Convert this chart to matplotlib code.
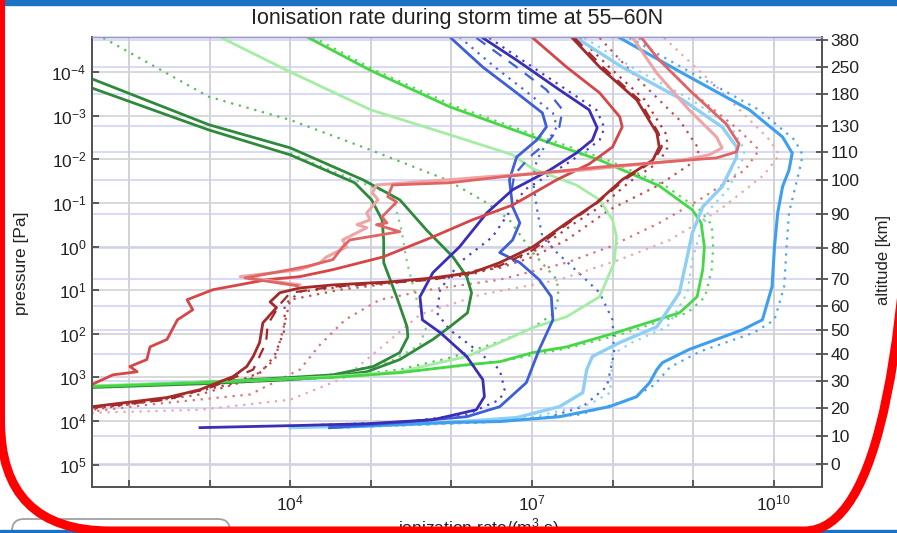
import numpy as np
import matplotlib.pyplot as plt
from matplotlib.patches import FancyBboxPatch, Rectangle
from matplotlib.ticker import FixedLocator, NullLocator, NullFormatter

plt.rcParams['font.family'] = ['Liberation Sans', 'DejaVu Sans']
plt.rcParams['mathtext.fontset'] = 'custom'
plt.rcParams['mathtext.rm'] = 'Liberation Sans'
plt.rcParams['mathtext.it'] = 'Liberation Sans:italic'
plt.rcParams['mathtext.bf'] = 'Liberation Sans:bold'

# profiles: log10(ionisation rate) vs log10(pressure / Pa)
dkgreen_a_q = [1.54, 2.99, 4.00, 4.90, 5.36, 5.69, 6.02, 6.19, 6.25, 6.20, 5.98, 5.77, 5.36, 4.95, 4.53, 4.00, 2.99, 1.54]
dkgreen_a_p = [-3.84, -2.79, -2.26, -1.53, -1.07, -0.38, 0.24, 0.69, 1.06, 1.52, 1.84, 2.13, 2.59, 2.87, 2.98, 3.05, 3.14, 3.23]
dkgreen_b_q = [1.54, 2.99, 4.00, 4.80, 5.01, 5.14, 5.16, 5.16, 5.32, 5.45, 5.46, 5.36, 5.03, 4.53, 4.00, 3.00, 1.54]
dkgreen_b_p = [-3.63, -2.67, -2.10, -1.46, -1.07, -0.61, -0.15, 0.37, 1.15, 1.84, 2.07, 2.43, 2.75, 2.94, 3.00, 3.10, 3.21]
green_dot_a_q = [1.68, 2.99, 4.00, 5.00, 5.94, 6.44, 6.72, 7.01, 7.31, 7.33, 7.28, 7.03, 6.60, 5.98, 5.36, 4.53, 3.50, 1.54]
green_dot_a_p = [-4.78, -3.43, -2.90, -2.21, -1.53, -1.00, -0.61, 0.14, 0.76, 1.15, 1.52, 1.84, 2.18, 2.55, 2.82, 3.00, 3.10, 3.19]
green_dot_b_q = [4.00, 4.49, 5.27, 5.38, 5.45, 5.57, 5.69, 5.61, 5.24, 4.62, 4.00, 2.99, 1.54]
green_dot_b_p = [-2.14, -1.75, -1.18, -0.38, 0.37, 1.22, 1.84, 2.25, 2.64, 2.91, 3.03, 3.12, 3.21]
green_q = [4.21, 4.99, 5.98, 6.85, 7.09, 7.84, 8.58, 8.99, 9.10, 9.14, 9.12, 9.05, 8.83, 8.55, 8.05, 7.43, 7.01, 6.60, 6.19, 5.36, 4.53, 3.71, 2.88, 1.54]
green_p = [-4.80, -4.04, -3.20, -2.62, -2.46, -1.98, -1.39, -0.84, -0.54, 0.01, 0.53, 1.15, 1.52, 1.68, 1.97, 2.30, 2.43, 2.64, 2.71, 2.89, 3.00, 3.05, 3.12, 3.21]
green_dot_q = [4.28, 5.05, 6.04, 6.91, 7.90, 8.64, 9.08, 9.23, 9.25, 9.23, 9.15, 8.93, 8.58, 8.09, 7.47, 6.60, 5.36, 4.53, 2.88, 1.54]
green_dot_p = [-4.80, -4.04, -3.22, -2.64, -2.01, -1.41, -0.84, -0.50, 0.01, 0.53, 1.15, 1.52, 1.72, 2.02, 2.32, 2.64, 2.89, 3.00, 3.12, 3.21]
ltgreen_q = [3.15, 4.00, 5.00, 5.98, 6.76, 7.01, 7.55, 7.84, 8.00, 8.05, 8.02, 7.84, 7.43, 7.01, 6.60, 6.19, 5.36, 4.53, 3.50, 1.54]
ltgreen_p = [-4.78, -4.00, -3.13, -2.56, -2.10, -1.78, -1.41, -1.07, -0.61, -0.22, 0.37, 1.15, 1.61, 1.86, 2.20, 2.52, 2.87, 2.98, 3.07, 3.19]

indigo_q = [6.39, 6.81, 7.34, 7.71, 7.81, 7.75, 7.55, 7.22, 6.76, 6.44, 6.10, 5.77, 5.61, 5.64, 5.86, 6.19, 6.39, 6.41, 6.31, 5.77, 4.95, 4.12, 2.88]
indigo_p = [-4.78, -4.27, -3.59, -3.13, -2.72, -2.44, -2.14, -1.75, -1.30, -0.77, 0.01, 0.60, 1.15, 1.68, 1.97, 2.52, 3.05, 3.44, 3.74, 3.97, 4.06, 4.10, 4.15]
indigo_dot_q = [6.47, 6.88, 7.43, 7.80, 7.90, 7.84, 7.63, 7.31, 6.91, 6.51, 6.10, 5.86, 5.82, 5.98, 6.26, 6.60, 6.66, 6.60, 6.19, 5.36, 4.12]
indigo_dot_p = [-4.78, -4.27, -3.59, -3.13, -2.72, -2.44, -2.14, -1.75, -1.30, -0.22, 0.37, 0.99, 1.52, 1.91, 2.30, 2.82, 3.28, 3.51, 3.85, 4.03, 4.10]
blue_q = [5.98, 6.39, 6.81, 7.13, 7.18, 7.06, 6.81, 6.72, 6.76, 6.85, 6.76, 6.60, 6.85, 7.09, 7.24, 7.26, 7.09, 6.93, 6.60, 6.19, 5.36, 4.49]
blue_p = [-4.80, -4.11, -3.52, -3.06, -2.74, -2.44, -2.05, -1.53, -0.91, -0.54, -0.15, 0.14, 0.37, 0.76, 1.15, 1.68, 2.36, 3.12, 3.67, 3.90, 4.03, 4.15]
blue_dash_q = [6.31, 6.81, 7.18, 7.38, 7.34, 7.22, 6.97, 6.78, 6.74]
blue_dash_p = [-4.78, -4.11, -3.59, -3.13, -2.74, -2.44, -2.05, -1.64, -1.18]
blue_dot_q = [6.10, 6.54, 6.95, 7.26, 7.31, 7.19, 7.06, 7.01, 7.07, 7.13, 7.31, 7.63, 7.84, 8.00, 8.02, 7.93, 7.63, 7.22, 6.60, 5.61, 4.62]
blue_dot_p = [-4.80, -4.11, -3.52, -3.06, -2.74, -2.40, -1.98, -1.53, -0.77, -0.22, 0.14, 0.69, 1.06, 1.68, 2.43, 3.21, 3.67, 3.90, 4.01, 4.08, 4.15]
skyblue_q = [7.55, 8.12, 8.87, 9.36, 9.54, 9.54, 9.36, 9.12, 8.99, 8.92, 8.83, 8.55, 8.09, 7.75, 7.68, 7.63, 7.34, 6.81, 5.98, 5.11, 4.00]
skyblue_p = [-4.78, -4.11, -3.36, -2.74, -2.28, -2.05, -1.37, -0.91, -0.31, 0.30, 1.06, 1.84, 2.20, 2.52, 2.82, 3.35, 3.67, 3.92, 4.03, 4.10, 4.15]
skyblue_dot_q = [7.65, 8.24, 8.98, 9.47, 9.64, 9.61, 9.43, 9.20, 9.08, 8.99, 8.93, 8.68, 8.24, 7.99, 7.99, 7.97, 7.71, 6.97, 5.98, 4.49]
skyblue_dot_p = [-4.78, -4.11, -3.36, -2.74, -2.21, -1.98, -1.30, -0.84, -0.27, 0.30, 1.06, 1.84, 2.20, 2.48, 2.82, 3.35, 3.62, 3.92, 4.06, 4.15]
dodger_q = [8.09, 8.87, 9.70, 10.11, 10.23, 10.19, 10.11, 10.05, 10.01, 9.98, 9.86, 9.61, 8.95, 8.62, 8.55, 8.46, 8.30, 7.96, 7.34, 6.60, 5.98, 4.49]
dodger_p = [-4.78, -3.97, -3.13, -2.51, -2.14, -1.75, -1.37, -0.77, 0.01, 0.92, 1.68, 1.91, 2.36, 2.66, 2.82, 3.12, 3.44, 3.67, 3.90, 4.01, 4.03, 4.15]
dodger_dot_q = [8.21, 8.99, 9.82, 10.26, 10.36, 10.32, 10.26, 10.19, 10.16, 10.13, 10.01, 9.76, 9.08, 8.71, 8.52, 8.21, 7.59, 6.60, 5.36]
dodger_dot_p = [-4.78, -3.97, -3.13, -2.44, -2.10, -1.75, -1.30, -0.77, 0.01, 0.92, 1.68, 1.97, 2.41, 2.77, 3.17, 3.51, 3.85, 4.01, 4.10]

dkred_q = [7.50, 7.84, 8.30, 8.55, 8.58, 8.50, 8.12, 7.80, 7.43, 7.01, 6.60, 6.26, 5.77, 5.24, 4.53, 4.12, 3.87, 3.75, 3.83, 3.66, 3.62, 3.54, 3.46, 3.29, 2.88, 2.47, 1.54]
dkred_p = [-4.78, -4.11, -3.36, -2.60, -2.28, -1.98, -1.53, -1.00, -0.54, 0.01, 0.37, 0.60, 0.72, 0.81, 0.88, 0.95, 1.06, 1.27, 1.40, 1.75, 2.20, 2.52, 2.75, 2.98, 3.28, 3.46, 3.67]
dkred_dash_q = [7.53, 7.88, 8.33, 8.57, 8.61, 8.52, 8.15, 7.81, 7.44, 7.01, 6.60, 5.77, 4.53, 4.00, 3.87, 3.72, 3.70, 3.60, 3.54, 3.04, 2.47, 1.54]
dkred_dash_p = [-4.78, -4.11, -3.36, -2.60, -2.28, -1.98, -1.53, -1.00, -0.52, 0.08, 0.44, 0.76, 0.92, 1.06, 1.33, 1.79, 2.20, 2.59, 2.82, 3.21, 3.51, 3.69]
dkred_dot_q = [7.59, 7.96, 8.40, 8.67, 8.68, 8.58, 8.21, 7.88, 7.50, 7.09, 6.66, 6.23, 5.61, 4.86, 4.12, 3.93, 3.93, 3.81, 3.65, 3.25, 2.26, 1.54]
dkred_dot_p = [-4.78, -4.11, -3.36, -2.56, -2.26, -1.94, -1.48, -0.95, -0.50, 0.05, 0.42, 0.65, 0.78, 0.88, 1.04, 1.33, 1.91, 2.48, 2.87, 3.16, 3.55, 3.71]
red_q = [7.01, 7.43, 7.84, 8.09, 8.12, 8.00, 7.71, 7.31, 6.76, 6.26, 5.77, 5.15, 4.53, 4.12, 3.71, 3.04, 2.72, 2.79, 2.60, 2.47, 2.26, 2.22, 2.01, 2.10, 1.80, 1.54]
red_p = [-4.78, -4.11, -3.52, -2.97, -2.74, -2.28, -1.89, -1.53, -0.95, -0.61, -0.22, 0.24, 0.53, 0.69, 0.76, 0.99, 1.22, 1.45, 1.68, 2.13, 2.30, 2.59, 2.75, 2.87, 2.94, 3.16]
pink_q = [8.25, 8.55, 8.95, 9.29, 9.36, 9.20, 8.87, 7.63, 6.39, 5.98, 5.07, 5.02, 5.09, 4.95, 4.99, 4.83, 4.95, 4.65, 4.70, 4.45, 4.37, 4.12, 3.38, 4.12]
pink_p = [-4.78, -3.97, -3.13, -2.51, -2.26, -2.10, -1.98, -1.75, -1.59, -1.53, -1.41, -1.23, -1.07, -0.77, -0.61, -0.50, -0.43, -0.15, 0.01, 0.24, 0.37, 0.53, 0.69, 0.88]
salmon_q = [8.36, 8.58, 8.99, 9.41, 9.57, 9.54, 9.29, 7.84, 6.60, 5.98, 5.27, 5.21, 5.32, 5.14, 5.20, 5.07, 5.36, 4.74, 4.65, 4.53, 4.24, 4.00, 3.44, 4.09]
salmon_p = [-4.78, -4.27, -3.52, -2.81, -2.35, -2.17, -2.03, -1.82, -1.59, -1.46, -1.41, -1.14, -1.02, -0.68, -0.54, -0.50, -0.34, -0.15, 0.01, 0.30, 0.44, 0.53, 0.72, 0.90]
red_dot_a_q = [7.84, 8.33, 8.83, 9.08, 8.95, 8.58, 7.96, 7.43, 7.01, 6.60, 5.61, 4.62, 4.00, 3.91, 3.81, 3.50, 2.88, 1.54]
red_dot_a_p = [-4.78, -3.81, -2.90, -2.21, -1.87, -1.41, -0.84, -0.15, 0.24, 0.49, 0.76, 0.99, 1.22, 1.91, 2.59, 3.05, 3.39, 3.74]
red_dot_b_q = [8.33, 8.95, 9.57, 9.82, 9.64, 9.08, 8.58, 7.96, 7.43, 6.60, 5.73, 5.11, 4.68, 4.37, 4.12, 3.50, 2.26, 1.54]
red_dot_b_p = [-4.78, -3.59, -2.67, -2.21, -1.75, -1.07, -0.54, 0.01, 0.37, 0.76, 0.99, 1.22, 1.68, 2.25, 2.82, 3.39, 3.62, 3.78]
red_dot_c_q = [8.64, 9.33, 9.95, 10.07, 9.88, 9.33, 8.71, 8.09, 7.34, 6.35, 5.61, 5.17, 4.68, 4.00, 2.88, 1.54]
red_dot_c_p = [-4.78, -3.59, -2.44, -2.10, -1.64, -0.84, -0.15, 0.30, 0.76, 1.11, 1.56, 2.25, 3.00, 3.51, 3.74, 3.81]

# altitude scale on the right axis
alt_km = [380, 250, 180, 130, 110, 100, 90, 80, 70, 60, 50, 40, 30, 20, 10, 0]
alt_logp = [-4.73, -4.11, -3.49, -2.76, -2.17, -1.53, -0.75, 0.03, 0.74, 1.36, 1.91, 2.46, 3.07, 3.71, 4.35, 4.99]

DOT = (0, (1, 2.6))
series = [
    (green_dot_a_q, green_dot_a_p, '#5dbb5d', DOT, 1.6),
    (green_dot_b_q, green_dot_b_p, '#7fcf7f', DOT, 1.6),
    (green_dot_q, green_dot_p, '#55d855', DOT, 1.6),
    (indigo_dot_q, indigo_dot_p, '#4a3fc8', DOT, 1.6),
    (blue_dot_q, blue_dot_p, '#4a68dc', DOT, 1.6),
    (skyblue_dot_q, skyblue_dot_p, '#8ecff5', DOT, 1.6),
    (dodger_dot_q, dodger_dot_p, '#4aa4ef', DOT, 1.6),
    (dkred_dot_q, dkred_dot_p, '#b03a3a', DOT, 1.6),
    (red_dot_a_q, red_dot_a_p, '#c84a4a', DOT, 1.6),
    (red_dot_b_q, red_dot_b_p, '#df7070', DOT, 1.6),
    (red_dot_c_q, red_dot_c_p, '#f0a5a5', DOT, 1.6),
    (dkgreen_a_q, dkgreen_a_p, '#2e8a3a', '-', 2.0),
    (dkgreen_b_q, dkgreen_b_p, '#2e8a3a', '-', 2.0),
    (ltgreen_q, ltgreen_p, '#a3eea3', '-', 2.0),
    (green_q, green_p, '#44d844', '-', 2.0),
    (skyblue_q, skyblue_p, '#8ecff5', '-', 2.4),
    (dodger_q, dodger_p, '#3f9fef', '-', 2.2),
    (blue_q, blue_p, '#3d5fd8', '-', 2.0),
    (blue_dash_q, blue_dash_p, '#3d5fd8', (0, (5, 4)), 1.6),
    (indigo_q, indigo_p, '#3a2db8', '-', 2.0),
    (dkred_q, dkred_p, '#a42a2a', '-', 2.0),
    (dkred_dash_q, dkred_dash_p, '#a42a2a', (0, (5, 4)), 1.6),
    (red_q, red_p, '#d64646', '-', 2.0),
    (pink_q, pink_p, '#eea5a5', '-', 2.2),
    (salmon_q, salmon_p, '#e06464', '-', 2.0),
]

fig = plt.figure(figsize=(8.97, 5.33), dpi=100)
fig.patch.set_facecolor('white')
ax = fig.add_axes([0.1026, 0.0863, 0.8138, 0.8443])
ax.set_xscale('log')
ax.set_yscale('log')
ax.set_xlim(10 ** 1.54, 10 ** 10.6)
ax.set_ylim(10 ** 5.51, 10 ** -4.80)

# grid: grey decades, light blue altitude levels
for e in range(2, 11):
    ax.axvline(10.0 ** e, color='#cfcfcf', lw=1.3, zorder=0)
for e in range(-4, 6):
    ax.axhline(10.0 ** e, color='#d6d6d6', lw=1.3, zorder=0)
for lp in alt_logp:
    ax.axhline(10.0 ** lp, color='#cdd0f6', lw=1.1, zorder=0)

for q, p, c, ls, lw in series:
    z = 2 if ls == DOT else 3
    ax.plot(10.0 ** np.array(q), 10.0 ** np.array(p), color=c, ls=ls, lw=lw,
            solid_joinstyle='round', zorder=z)

ax.xaxis.set_major_locator(FixedLocator([1e4, 1e7, 1e10]))
ax.xaxis.set_minor_locator(FixedLocator(10.0 ** np.arange(2, 11)))
ax.xaxis.set_minor_formatter(NullFormatter())
ax.yaxis.set_major_locator(FixedLocator(10.0 ** np.arange(-4, 6)))
ax.yaxis.set_minor_locator(NullLocator())
ax.tick_params(which='both', direction='in', length=5, width=1.2, color='#444444',
               labelsize=12.5, labelcolor='#222222', pad=4)
ax.tick_params(axis='x', pad=5)

ax2 = ax.twinx()
ax2.set_yscale('log')
ax2.set_ylim(10 ** 5.51, 10 ** -4.80)
ax2.yaxis.set_major_locator(FixedLocator(10.0 ** np.array(alt_logp)))
ax2.yaxis.set_minor_locator(NullLocator())
ax2.set_yticklabels([str(a) for a in alt_km])
ax2.tick_params(direction='inout', length=8, width=1.2, color='#444444',
                labelsize=12.5, labelcolor='#222222', pad=2)

for a in (ax, ax2):
    for side in ('left', 'right', 'bottom'):
        a.spines[side].set_color('#555555')
        a.spines[side].set_linewidth(1.4)
    a.spines['top'].set_color('#9a9ac8')
    a.spines['top'].set_linewidth(1.0)

fig.text(0.509, 0.966, 'Ionisation rate during storm time at 55\u201360N',
         ha='center', va='center', fontsize=15.5, color='#222222')
fig.text(0.024, 0.507, 'pressure [Pa]', rotation=90, ha='center', va='center',
         fontsize=12.5, color='#222222')
fig.text(0.985, 0.512, 'altitude [km]', rotation=90, ha='center', va='center',
         fontsize=12, color='#222222')

# slide frame drawn over the figure, in pixel units
ov = fig.add_axes([0, 0, 1, 1], zorder=10)
ov.set_xlim(0, 897)
ov.set_ylim(533, 0)
ov.axis('off')
ov.patch.set_alpha(0)
ov.text(478, 533, 'ionization rate/(m$^3$ s)', ha='center', va='baseline',
        fontsize=12.5, color='#222222', zorder=1)
ov.add_patch(FancyBboxPatch((12, 519), 218, 40, boxstyle='round,pad=0,rounding_size=12',
                            fc='white', ec='#a0a0a0', lw=1.3, zorder=2))
ov.add_patch(Rectangle((0, 0), 897, 4.5, color='#1b72c4', zorder=3))
ov.add_patch(Rectangle((0, 529.5), 897, 4, color='#1b72c4', zorder=3))
ov.add_patch(FancyBboxPatch((0.5, -120), 914, 651, boxstyle='round,pad=0,rounding_size=110',
                            fill=False, ec='#ff0000', lw=6.5, zorder=4))

fig.savefig('out.png', dpi=100)
